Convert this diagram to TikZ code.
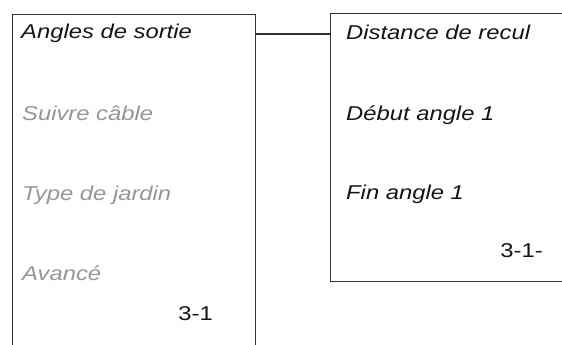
\documentclass[tikz,border=0pt]{standalone}
\usepackage{fontspec}
\newfontfamily\labfont{Liberation Sans}[FakeStretch=1.19]
\definecolor{linec}{HTML}{333333}
\definecolor{txtdark}{HTML}{151515}
\definecolor{txtgrey}{HTML}{969696}
\begin{document}
\begin{tikzpicture}[x=1pt,y=-1pt,
  box/.style={draw=linec,line width=1.4pt,rectangle,inner sep=0pt,anchor=north west},
  item/.style={anchor=base west,inner sep=0pt,font=\labfont\fontsize{20}{24}\selectfont\itshape,text=txtdark},
  dim/.style={item,text=txtgrey},
  pagenum/.style={anchor=base east,inner sep=0pt,font=\labfont\fontsize{20}{24}\selectfont,text=txtdark},
  link/.style={draw=linec,line width=1.4pt}]
\useasboundingbox (0,0) rectangle (562,345);
\clip (0,0) rectangle (562,345);
\fill[white] (0,0) rectangle (562,345);
\node[box,minimum width=243pt,minimum height=360pt] (L) at (12,14) {};
\node[box,minimum width=250pt,minimum height=268pt] (R) at (330,13) {};
\coordinate (c) at (0,34);
\draw[link] (L.east |- c) -- (R.west |- c);
\node[item] (a1) at (21,39) {Angles de sortie};
\node[dim] (a2) at (22,120) {Suivre câble};
\node[dim] (a3) at (22,200) {Type de jardin};
\node[dim] (a4) at (22,280) {Avancé};
\node[pagenum] (p1) at (213,320) {3-1};
\node[item] (b1) at (346,40) {Distance de recul};
\node[item] (b2) at (346,120) {Début angle 1};
\node[item] (b3) at (346,199) {Fin angle 1};
\node[pagenum] (p2) at (543,257) {3-1-};
\end{tikzpicture}
\end{document}
